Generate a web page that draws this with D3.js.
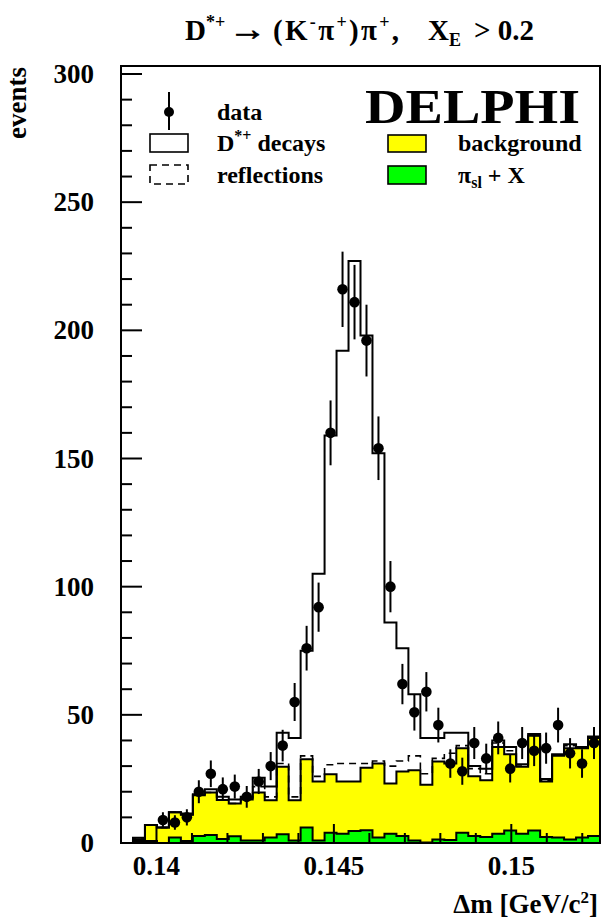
<!DOCTYPE html>
<html><head><meta charset="utf-8">
<script src="https://cdn.jsdelivr.net/npm/d3@7"></script>
<style>
body{margin:0;background:#fff;}
svg{display:block;}
text{font-family:"Liberation Serif","Times New Roman",serif;font-weight:bold;fill:#000;white-space:pre;}
</style></head><body>
<svg id="c" width="601" height="923"></svg>
<script>
// ---- data ----
const binStart = 0.139, binEnd = 0.1525, nBins = 40;
const dataFirstBin = 3;
const dataCounts = [9, 8, 10, 20, 27, 21, 22, 18, 24, 30, 38, 55, 76, 92, 160, 216, 211, 196, 154, 100,
  62, 51, 59, 46, 31, 28, 39, 33, 41, 29, 39, 36, 37, 46, 35, 31, 39];
const totalMC = [0, 2, 7, 6, 12, 11.5, 19, 21, 18, 17, 18, 25.5, 22, 43, 41, 75, 105, 159, 192, 227,
  198, 152, 86, 76, 58, 41, 41, 43, 43, 30, 29, 40, 37.5, 30.7, 42.5, 25, 34.6, 38.5, 37.5, 41.5];
const background = [0, 1.5, 7, 6, 12, 11, 18.6, 19.7, 16.8, 15.4, 17, 19.7, 16.7, 29.7, 16.7, 32.7, 24, 26.8, 24, 24,
  29.4, 31, 23.2, 27.9, 28.4, 22.7, 31.8, 31, 37, 26, 24.5, 37.5, 34.6, 29.7, 41.8, 24, 34, 37, 37, 41];
const bgPlusReflections = [0, 1.5, 7, 6, 12, 11, 18.6, 19.7, 16.8, 15.4, 17.5, 22, 18, 31, 18, 34, 26, 30.5, 31, 31,
  31, 32, 30, 32, 34, 27, 33, 35, 38, 29, 27, 39, 36, 30, 42, 24.5, 34.3, 38, 37.2, 41.3];
const piSlX = [0, 0.8, 0.8, 0, 2.1, 0.8, 2.7, 3.1, 1.6, 2.6, 1, 1, 2.1, 3.4, 1, 6, 1, 4, 3.6, 4.7,
  5, 2.1, 3.6, 2.7, 1, 0.2, 1.4, 1.2, 4, 2.7, 2.3, 3.6, 4.9, 3.6, 4.9, 2.3, 2.1, 1.4, 2.1, 2.7];
const xMajorTicks = [0.14, 0.145, 0.15];
const xTickLabels = ["0.14", "0.145", "0.15"];
const yMajorTicks = [0, 50, 100, 150, 200, 250, 300];
const yTickLabels = ["0", "50", "100", "150", "200", "250", "300"];

// ---- layout ----
const L = 121, R = 600, T = 66, B = 843;
const svg = d3.select("#c");
const x = d3.scaleLinear().domain([binStart, binEnd]).range([L, R]);
const y = d3.scaleLinear().domain([0, 300]).range([B, 74]);
const bw = (binEnd - binStart) / nBins;
const edge = k => binStart + k * bw;

svg.append("defs").append("clipPath").attr("id", "clip")
  .append("rect").attr("x", L).attr("y", T).attr("width", R - L).attr("height", B - T);
const plot = svg.append("g").attr("clip-path", "url(#clip)");

function stepPts(arr) {
  const p = arr.map((v, k) => ({e: edge(k), v}));
  p.push({e: edge(arr.length), v: arr[arr.length - 1]});
  return p;
}
const area = d3.area().x(d => x(d.e)).y0(y(0)).y1(d => y(d.v)).curve(d3.curveStepAfter);
const line = d3.line().x(d => x(d.e)).y(d => y(d.v)).curve(d3.curveStepAfter);

// background (yellow)
plot.append("path").datum(stepPts(background)).attr("d", area).attr("fill", "#ffff00").attr("stroke", "none");
plot.append("path").datum(stepPts(background)).attr("d", line).attr("fill", "none").attr("stroke", "#000").attr("stroke-width", 2);
// pi_sl + X (green)
plot.append("path").datum(stepPts(piSlX)).attr("d", area).attr("fill", "#00ff00").attr("stroke", "none");
plot.append("path").datum(stepPts(piSlX)).attr("d", line).attr("fill", "none").attr("stroke", "#000").attr("stroke-width", 2);
// reflections (dashed)
plot.append("path").datum(stepPts(bgPlusReflections)).attr("d", line).attr("fill", "none")
  .attr("stroke", "#000").attr("stroke-width", 1.6).attr("stroke-dasharray", "7,5");
// D*+ decays total (solid)
plot.append("path").datum(stepPts(totalMC)).attr("d", line).attr("fill", "none").attr("stroke", "#000").attr("stroke-width", 2);

// data points
const pts = dataCounts.map((v, i) => ({c: edge(dataFirstBin + i) + bw / 2, v}));
const dg = svg.append("g");
dg.selectAll("line.err").data(pts).join("line").attr("class", "err")
  .attr("x1", d => x(d.c)).attr("x2", d => x(d.c))
  .attr("y1", d => y(d.v - Math.sqrt(d.v))).attr("y2", d => y(d.v + Math.sqrt(d.v)))
  .attr("stroke", "#000").attr("stroke-width", 2);
dg.selectAll("circle").data(pts).join("circle")
  .attr("cx", d => x(d.c)).attr("cy", d => y(d.v)).attr("r", 5.3).attr("fill", "#000");

// frame
svg.append("rect").attr("x", L).attr("y", T).attr("width", R - L).attr("height", B - T)
  .attr("fill", "none").attr("stroke", "#000").attr("stroke-width", 2);

// y ticks
const yMinor = d3.range(0, 301, 10);
svg.append("g").selectAll("line").data(yMinor).join("line")
  .attr("x1", L).attr("x2", d => L + (d % 50 === 0 ? 21 : 11))
  .attr("y1", d => y(d)).attr("y2", d => y(d)).attr("stroke", "#000").attr("stroke-width", 2);
svg.append("g").selectAll("text").data(yMajorTicks).join("text")
  .attr("x", 94).attr("y", d => y(d) + 9).attr("text-anchor", "end").attr("font-size", 27)
  .text((d, i) => yTickLabels[i]);

// x ticks
const xMinor = d3.range(0, 14).map(i => 0.139 + i * 0.001);
svg.append("g").selectAll("line").data(xMinor).join("line")
  .attr("x1", d => x(d)).attr("x2", d => x(d))
  .attr("y1", B).attr("y2", d => B - (xMajorTicks.some(t => Math.abs(t - d) < 1e-7) ? 19 : 10))
  .attr("stroke", "#000").attr("stroke-width", 2);
svg.append("g").selectAll("text").data(xMajorTicks).join("text")
  .attr("x", d => x(d)).attr("y", 875).attr("text-anchor", "middle").attr("font-size", 27)
  .text((d, i) => xTickLabels[i]);

// axis titles
const xt = svg.append("text").attr("x", 598).attr("y", 913).attr("text-anchor", "end").attr("font-size", 27);
xt.append("tspan").text("\u0394m [GeV/c");
xt.append("tspan").attr("font-size", 17).attr("dy", -10).text("2");
xt.append("tspan").attr("dy", 10).text("]");
svg.append("text").attr("transform", "translate(26,67) rotate(-90)").attr("text-anchor", "end")
  .attr("font-size", 27).text("events");

// title (segments placed like the original)
const TB = 40, TF = 29, TS = 18;
const t1 = svg.append("text").attr("x", 185).attr("y", TB).attr("font-size", TF);
t1.append("tspan").text("D");
t1.append("tspan").attr("font-size", TS).attr("dy", -12).text("*+");
svg.append("text").attr("transform", `translate(229,${TB}) scale(1.3,1.1)`).attr("font-size", TF)
  .attr("stroke", "#000").attr("stroke-width", 0.7).text("\u2192");
const t3 = svg.append("text").attr("x", 273).attr("y", TB).attr("font-size", TF)
  .attr("textLength", 126).attr("lengthAdjust", "spacing");
t3.append("tspan").text("(K");
t3.append("tspan").attr("font-size", TS).attr("dy", -12).text("-");
t3.append("tspan").attr("dy", 12).text("\u03c0");
t3.append("tspan").attr("font-size", TS).attr("dy", -12).text("+");
t3.append("tspan").attr("dy", 12).text(")\u03c0");
t3.append("tspan").attr("font-size", TS).attr("dy", -12).text("+");
t3.append("tspan").attr("dy", 12).text(",");
const t4 = svg.append("text").attr("x", 428).attr("y", TB).attr("font-size", TF);
t4.append("tspan").text("X");
t4.append("tspan").attr("font-size", TS).attr("dy", 6).text("E");
svg.append("text").attr("x", 474).attr("y", TB).attr("font-size", TF).text("> 0.2");

// legend
const lg = svg.append("g");
lg.append("line").attr("x1", 169).attr("x2", 169).attr("y1", 92).attr("y2", 130).attr("stroke", "#000").attr("stroke-width", 2);
lg.append("circle").attr("cx", 169).attr("cy", 112).attr("r", 5).attr("fill", "#000");
lg.append("rect").attr("x", 150).attr("y", 134).attr("width", 38).attr("height", 18).attr("fill", "none").attr("stroke", "#000").attr("stroke-width", 1.6);
lg.append("rect").attr("x", 150).attr("y", 165).attr("width", 38).attr("height", 19).attr("fill", "none").attr("stroke", "#000").attr("stroke-width", 1.6).attr("stroke-dasharray", "7,5");
lg.append("rect").attr("x", 388).attr("y", 135).attr("width", 38).attr("height", 17).attr("fill", "#ffff00").attr("stroke", "#000").attr("stroke-width", 1.6);
lg.append("rect").attr("x", 388).attr("y", 166).attr("width", 38).attr("height", 18).attr("fill", "#00ff00").attr("stroke", "#000").attr("stroke-width", 1.6);
lg.append("text").attr("x", 217).attr("y", 120).attr("font-size", 24).text("data");
const dl = lg.append("text").attr("x", 217).attr("y", 151).attr("font-size", 24);
dl.append("tspan").text("D");
dl.append("tspan").attr("font-size", 16).attr("dy", -10).text("*+");
dl.append("tspan").attr("dy", 10).text(" decays");
lg.append("text").attr("x", 217).attr("y", 183).attr("font-size", 24).text("reflections");
lg.append("text").attr("x", 458).attr("y", 151).attr("font-size", 24).text("background");
const pl = lg.append("text").attr("x", 458).attr("y", 183).attr("font-size", 24);
pl.append("tspan").text("\u03c0");
pl.append("tspan").attr("font-size", 16).attr("dy", 5).text("sl");
pl.append("tspan").attr("dy", -5).text(" + X");
lg.append("text").attr("x", 365).attr("y", 123).attr("font-size", 48)
  .attr("textLength", 215).attr("lengthAdjust", "spacingAndGlyphs").text("DELPHI");
</script>
</body></html>
